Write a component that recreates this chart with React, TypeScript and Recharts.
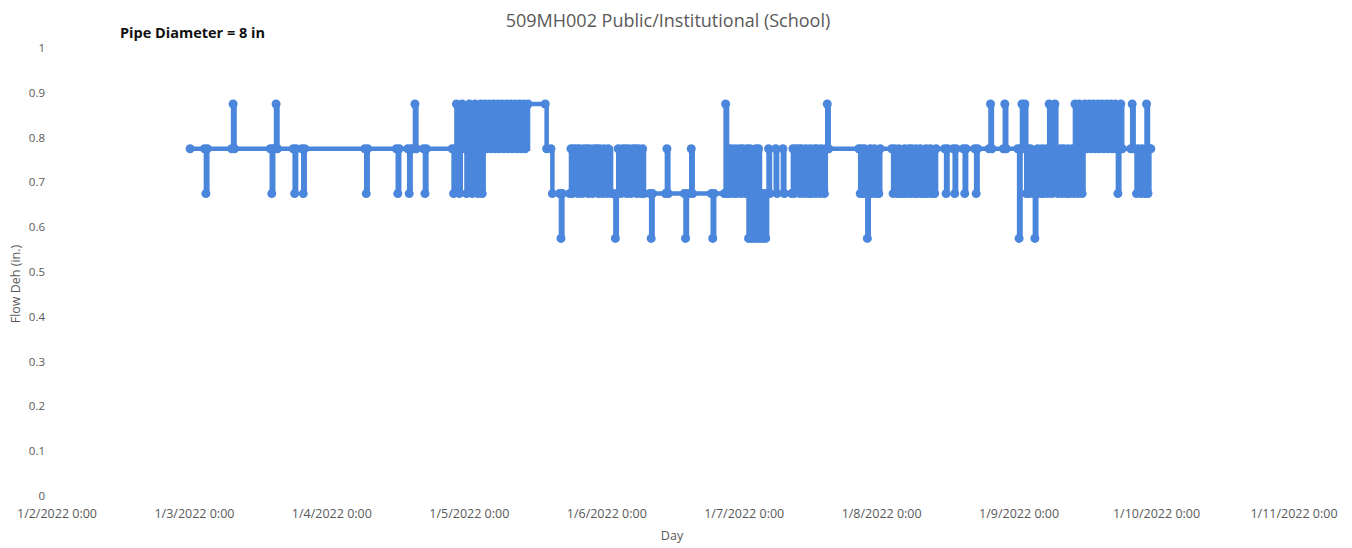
import React from "react";
import { LineChart, Line, XAxis, YAxis } from "recharts";

// Flow depth levels seen in the picture (in.)
const HI = 0.875;
const MID = 0.775;
const LO = 0.675;
const MIN = 0.575;

type P = [number, number]; // [hours since 1/2/2022 0:00, depth]

const jan2to4: P[] = [
  [23.25, MID], [25.75, MID], [26, LO], [26.25, MID], [30.5, MID], [30.75, HI], [31, MID],
  [37.25, MID], [37.5, LO], [37.75, MID], [38, MID], [38.25, HI], [38.5, MID],
  [41.25, MID], [41.5, LO], [41.75, MID], [42.75, MID], [43, LO], [43.25, MID],
  [53.75, MID], [54, LO], [54.25, MID], [59.25, MID], [59.5, LO], [59.75, MID],
  [61.25, MID], [61.5, LO], [61.75, MID], [62.25, MID], [62.5, HI], [62.75, MID],
  [64, MID], [64.25, LO], [64.5, MID], [69, MID],
];

const jan4to5: P[] = [
  [69.25, LO], [69.5, MID], [69.75, HI], [70, MID], [70.25, LO], [70.5, MID], [70.75, HI],
  [71.25, MID], [71.5, LO], [71.75, MID], [72, HI], [72.25, MID], [72.5, LO], [72.75, MID],
  [73, HI], [73.25, MID], [73.5, LO], [73.75, MID], [74, HI], [74.25, LO], [74.5, MID],
  [74.75, HI], [75, MID], [75.5, HI], [75.75, MID], [76.25, HI], [76.5, MID], [77, HI],
  [77.25, MID], [77.75, HI], [78, MID], [78.5, HI], [78.75, MID], [79.25, HI], [79.5, MID],
  [80, HI], [80.25, MID], [80.75, HI], [81, MID], [81.5, HI], [81.75, MID], [82.25, HI],
  [85.25, HI], [85.5, MID], [86.25, MID], [86.5, LO],
];

const jan5to6: P[] = [
  [87.75, LO], [88, MIN], [88.25, LO], [89.5, LO], [89.75, MID], [90, LO], [90.25, MID],
  [90.75, MID], [91, LO], [91.25, MID], [91.75, LO], [92, MID], [92.5, MID], [92.75, LO],
  [93, MID], [93.5, LO], [93.75, MID], [94.25, MID], [94.5, LO], [94.75, MID], [95.25, LO],
  [95.5, MID], [96, LO], [96.25, MID], [96.75, LO], [97, LO], [97.5, MIN], [97.75, LO],
  [98, MID], [98.5, LO], [98.75, MID], [99.25, MID], [99.5, LO], [99.75, MID], [100.25, LO],
  [100.5, MID], [101, MID], [101.25, LO], [101.5, MID], [102, LO], [102.25, MID], [102.5, LO],
  [103.5, LO], [103.75, MIN], [104, LO], [106.25, LO], [106.5, MID], [106.75, LO],
  [109.5, LO], [109.75, MIN], [110, LO], [110.5, LO], [110.75, MID], [111, LO],
  [114.25, LO], [114.5, MIN], [114.75, LO], [116.5, LO], [116.75, HI], [117, LO],
];

const jan6to7: P[] = [
  [117.25, MID], [117.5, LO], [117.75, MID], [118.25, LO], [118.5, MID], [118.75, LO],
  [119.25, MID], [119.5, LO], [119.75, MID], [120.25, LO], [120.5, MID], [120.75, MIN],
  [121, MID], [121.25, MIN], [121.5, LO], [121.75, MIN], [122, MID], [122.25, MIN],
  [122.5, MID], [122.75, MIN], [123, LO], [123.25, MIN], [123.5, LO], [123.75, MIN],
  [124, LO], [124.25, MID], [124.5, LO], [125.5, MID], [125.75, LO], [126.75, MID],
  [127, LO], [128.25, LO], [128.5, MID], [128.75, LO], [129, MID], [129.5, MID], [129.75, LO],
  [130, MID], [130.5, LO], [130.75, MID], [131.25, LO], [131.5, MID], [131.75, LO],
  [132.25, MID], [132.5, LO], [132.75, MID], [133.25, LO], [133.5, MID], [134, LO],
  [134.25, MID], [134.5, HI], [134.75, MID],
];

const jan7to9: P[] = [
  [140, MID], [140.25, LO], [140.5, MID], [140.75, LO], [141, MID], [141.25, LO],
  [141.5, MIN], [141.75, LO], [142, MID], [142.25, LO], [142.75, MID], [143, LO],
  [143.5, LO], [143.75, MID], [145.75, MID], [146, LO], [146.25, MID], [146.75, LO],
  [147, MID], [147.25, LO], [147.75, LO], [148, MID], [148.25, LO], [148.75, MID],
  [149, LO], [149.25, MID], [149.75, LO], [150, MID], [150.25, LO], [150.75, MID],
  [151, LO], [151.5, LO], [151.75, MID], [152, LO], [152.5, MID], [152.75, LO],
  [153.25, LO], [153.5, MID], [155, MID], [155.25, LO], [155.5, MID], [156.5, MID],
  [156.75, LO], [157, MID], [158.25, MID], [158.5, LO], [158.75, MID], [160.25, MID],
  [160.5, LO], [160.75, MID], [162.75, MID], [163, HI], [163.25, MID], [165.25, MID],
  [165.5, HI], [165.75, MID], [167.75, MID], [168, MIN], [168.25, MID], [168.5, HI],
  [168.75, MID], [169, HI],
];

const jan9to10: P[] = [
  [169.25, LO], [169.5, MID], [169.75, LO], [170, MID], [170.5, LO], [170.75, MIN],
  [171, LO], [171.25, MID], [171.75, LO], [172, MID], [172.25, LO], [172.75, MID],
  [173, LO], [173.25, HI], [173.5, MID], [173.75, LO], [174, MID], [174.25, HI],
  [174.5, MID], [174.75, LO], [175.25, MID], [175.5, LO], [175.75, MID], [176.25, LO],
  [176.5, MID], [176.75, LO], [177.25, MID], [177.5, LO], [177.75, HI], [178, MID],
  [178.25, LO], [178.5, HI], [178.75, MID], [179, LO], [179.25, MID], [179.5, HI],
  [179.75, MID], [180.25, HI], [180.5, MID], [181, HI], [181.25, MID], [181.75, HI],
  [182, MID], [182.5, HI], [182.75, MID], [183.25, HI], [183.5, MID], [184, HI],
  [184.25, MID], [184.75, HI], [185, MID], [185.25, LO], [185.5, MID], [185.75, HI],
  [186, MID], [187.5, MID], [187.75, HI], [188, MID], [188.5, LO], [188.75, MID],
  [189.25, LO], [189.5, MID], [190, LO], [190.25, HI], [190.5, LO], [190.75, MID],
  [191, MID],
];

const xTicks = [0, 24, 48, 72, 96, 120, 144, 168, 192, 216];
const yTicks = [0, 0.1, 0.2, 0.3, 0.4, 0.5, 0.6, 0.7, 0.8, 0.9, 1];

const data = [...jan2to4, ...jan4to5, ...jan5to6, ...jan6to7, ...jan7to9, ...jan9to10].map(
  ([h, d]) => ({ h, d })
);

const BLUE = "#4A86DC";
const FONT = "'Open Sans', 'Liberation Sans', sans-serif";

const fmtX = (h: number) => `1/${2 + Math.round(h / 24)}/2022 0:00`;
const fmtY = (v: number) => (v === 0 ? "0" : v === 1 ? "1" : v.toFixed(1));

export default function App() {
  return (
    <div style={{ position: "absolute", left: 0, top: 0, width: 1352, height: 548, background: "#fff", fontFamily: FONT }}>
      <div style={{ position: "absolute", left: 418, top: 8, width: 500, textAlign: "center", fontSize: 18, lineHeight: "24px", color: "#595959" }}>
        509MH002 Public/Institutional (School)
      </div>
      <div style={{ position: "absolute", left: 120, top: 23, fontSize: 14.5, lineHeight: "20px", fontWeight: 700, color: "#111" }}>
        Pipe Diameter = 8 in
      </div>
      <div style={{ position: "absolute", left: 672 - 30, top: 527, width: 60, textAlign: "center", fontSize: 12.5, lineHeight: "18px", color: "#595959" }}>
        Day
      </div>
      <div style={{ position: "absolute", left: 16 - 60, top: 284 - 9, width: 120, textAlign: "center", fontSize: 12.5, lineHeight: "18px", color: "#595959", transform: "rotate(-90deg)" }}>
        Flow Deh (in.)
      </div>
      <LineChart width={1352} height={548} data={data} margin={{ top: 48, right: 58, bottom: 0, left: 0 }}>
        <XAxis
          type="number"
          dataKey="h"
          domain={[0, 216]}
          ticks={xTicks}
          tickFormatter={fmtX}
          height={52}
          axisLine={false}
          tickLine={false}
          tickSize={0}
          tickMargin={13}
          tick={{ fontSize: 12.5, fill: "#595959", fontFamily: FONT }}
          interval={0}
        />
        <YAxis
          type="number"
          domain={[0, 1]}
          ticks={yTicks}
          tickFormatter={fmtY}
          width={57}
          axisLine={false}
          tickLine={false}
          tickSize={0}
          tickMargin={12}
          tick={{ fontSize: 11.5, fill: "#595959", fontFamily: FONT }}
          interval={0}
        />
        <Line
          type="stepAfter"
          dataKey="d"
          stroke={BLUE}
          strokeWidth={4.5}
          dot={{ r: 4.5, fill: BLUE, stroke: BLUE, strokeWidth: 0 }}
          isAnimationActive={false}
        />
      </LineChart>
    </div>
  );
}
